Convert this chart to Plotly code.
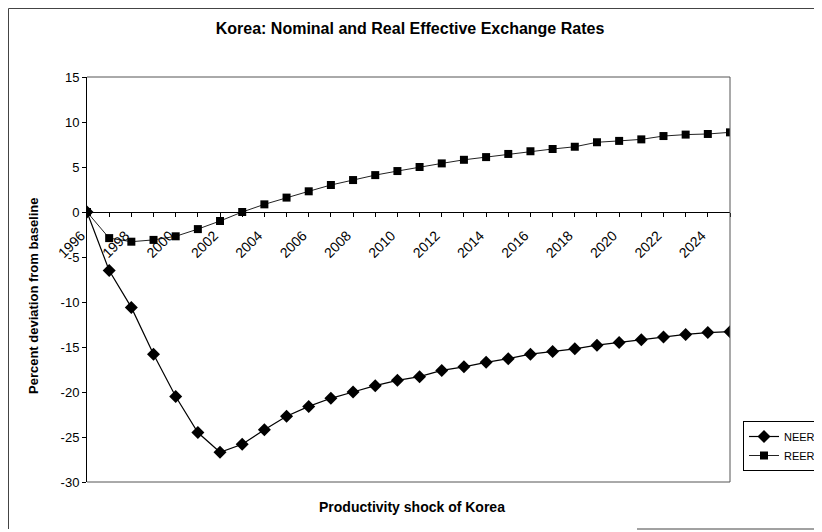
import plotly.graph_objects as go

years = list(range(1996, 2026))
neer = [0.0, -6.5, -10.6, -15.8, -20.5, -24.5, -26.7, -25.8, -24.2, -22.7,
        -21.6, -20.7, -20.0, -19.3, -18.7, -18.3, -17.6, -17.2, -16.7, -16.3,
        -15.8, -15.5, -15.2, -14.8, -14.5, -14.2, -13.9, -13.6, -13.4, -13.3]
reer = [0.0, -2.9, -3.3, -3.1, -2.7, -1.9, -1.0, 0.0, 0.85, 1.6,
        2.3, 3.0, 3.55, 4.1, 4.55, 5.0, 5.4, 5.8, 6.1, 6.45,
        6.75, 7.0, 7.25, 7.75, 7.9, 8.07, 8.44, 8.6, 8.67, 8.85]
tick_years = list(range(1996, 2025, 2))
y_ticks = list(range(-30, 16, 5))

# browser body margin offset
OFF = 8
WIN_W, WIN_H = 822, 532
W, H = WIN_W - OFF, WIN_H - OFF
# plot area in window pixels (reference)
L, R, T, B = 87, 730, 77, 482
FONT = "Liberation Sans, Arial, sans-serif"

def px_x(x):
    return (x - L) / (R - L)

def px_y(y):
    return (B - y) / (B - T)

fig = go.Figure()
fig.add_trace(go.Scatter(x=years, y=neer, name="NEER", mode="lines+markers",
                         line=dict(color="black", width=1.2),
                         marker=dict(symbol="diamond", size=10, color="black")))
fig.add_trace(go.Scatter(x=years, y=reer, name="REER", mode="lines+markers",
                         line=dict(color="#222", width=1),
                         marker=dict(symbol="square", size=8, color="black")))

ymin, ymax = -30, 15
fig.update_layout(
    width=W, height=H,
    margin=dict(l=L - OFF, r=WIN_W - R, t=T - OFF, b=WIN_H - B, autoexpand=False),
    paper_bgcolor="white", plot_bgcolor="white",
    font=dict(family=FONT, size=12, color="black"),
    title=dict(text="<b>Korea: Nominal and Real Effective Exchange Rates</b>",
               x=px_x(410), xref="paper", xanchor="center",
               y=1 - (28 - OFF) / H, yanchor="middle",
               font=dict(family=FONT, size=16, color="black")),
    showlegend=True,
    legend=dict(x=px_x(743), y=px_y(421), xanchor="left", yanchor="top",
                bordercolor="black", borderwidth=1, bgcolor="white",
                font=dict(family=FONT, size=11, color="black"),
                tracegroupgap=0, itemwidth=30),
    xaxis=dict(range=[1996, 2025], tickmode="array", tickvals=tick_years,
               ticktext=[str(v) for v in tick_years],
               tickangle=-45, ticks="outside", ticklen=4, tickcolor="black",
               ticklabelstandoff=5, ticklabelshift=-6,
               minor=dict(dtick=1, tick0=1996, ticks="outside", ticklen=4, tickcolor="black"),
               showgrid=False, zeroline=False, showline=True, linecolor="black", linewidth=1,
               anchor="free", position=(0 - ymin) / (ymax - ymin),
               tickfont=dict(family=FONT, size=14, color="black")),
    yaxis=dict(range=[ymin, ymax], tickmode="array", tickvals=y_ticks,
               ticktext=[str(v) for v in y_ticks], ticks="outside", ticklen=4,
               tickcolor="black", showgrid=False, zeroline=False,
               showline=True, linecolor="black", linewidth=1,
               tickfont=dict(family=FONT, size=13, color="black")),
)

# plot-area frame (top, right, bottom)
for x0, x1, y0, y1 in [(0, 1, 1, 1), (1, 1, 0, 1), (0, 1, 0, 0)]:
    fig.add_shape(type="line", xref="paper", yref="paper", x0=x0, x1=x1, y0=y0, y1=y1,
                  line=dict(color="#555", width=1))
# outer chart border fragments
fig.add_shape(type="line", xref="paper", yref="paper", x0=px_x(OFF + 0.5), x1=px_x(822),
              y0=px_y(OFF + 0.5), y1=px_y(OFF + 0.5), line=dict(color="#444", width=1))
fig.add_shape(type="line", xref="paper", yref="paper", x0=px_x(OFF + 0.5), x1=px_x(OFF + 0.5),
              y0=px_y(OFF + 0.5), y1=px_y(529), line=dict(color="#444", width=1))
fig.add_shape(type="line", xref="paper", yref="paper", x0=px_x(637), x1=px_x(822),
              y0=px_y(529), y1=px_y(529), line=dict(color="#444", width=1))

# axis titles
fig.add_annotation(text="<b>Productivity shock of Korea</b>", xref="paper", yref="paper",
                   x=px_x(412), y=px_y(507), xanchor="center", yanchor="middle",
                   showarrow=False, font=dict(family=FONT, size=14, color="black"))
fig.add_annotation(text="<b>Percent deviation from baseline</b>", xref="paper", yref="paper",
                   x=px_x(33), y=px_y(296), xanchor="center", yanchor="middle",
                   textangle=-90, showarrow=False,
                   font=dict(family=FONT, size=13, color="black"))

fig.write_html("out.html")
